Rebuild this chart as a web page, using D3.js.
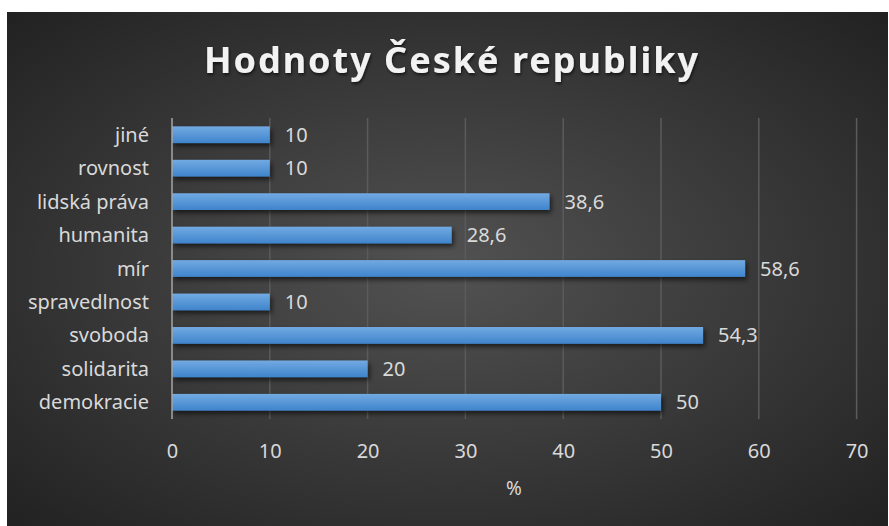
<!DOCTYPE html>
<html>
<head>
<meta charset="utf-8">
<script src="https://cdn.jsdelivr.net/npm/d3@7"></script>
<style>
    body { margin: 0; background: #fff; }
    svg { display: block; font-family: "Noto Sans", "Open Sans", sans-serif; }
</style>
</head>
<body>
<script>
(function () {

    // data, top to bottom
    var categories = ["jiné", "rovnost", "lidská práva", "humanita", "mír", "spravedlnost", "svoboda", "solidarita", "demokracie"];
    var values = [10, 10, 38.6, 28.6, 58.6, 10, 54.3, 20, 50];
    var xTicks = [0, 10, 20, 30, 40, 50, 60, 70];
    var titleText = "Hodnoty České republiky";
    var axisTitle = "%";

    var width = 889,
        height = 526,
        panel = { x: 7, y: 12, w: 881, h: 514 },
        plot = { left: 172, right: 856.6, top: 118, bottom: 419 };

    var svg = d3.select("body")
        .append("svg")
        .attr("width", width)
        .attr("height", height);

    var defs = svg.append("defs");

    // background gradient, lighter in the middle
    var bg = defs.append("radialGradient")
        .attr("id", "bg")
        .attr("cx", "50%").attr("cy", "50%").attr("r", "70%");
    bg.append("stop").attr("offset", "0%").attr("stop-color", "#525252");
    bg.append("stop").attr("offset", "100%").attr("stop-color", "#222222");

    var barGrad = defs.append("linearGradient")
        .attr("id", "barGrad")
        .attr("x1", 0).attr("y1", 0).attr("x2", 0).attr("y2", 1);
    barGrad.append("stop").attr("offset", "0%").attr("stop-color", "#72aae2");
    barGrad.append("stop").attr("offset", "100%").attr("stop-color", "#3f84cc");

    var shadow = defs.append("filter")
        .attr("id", "shadow")
        .attr("x", "-10%").attr("y", "-50%").attr("width", "130%").attr("height", "250%");
    shadow.append("feDropShadow")
        .attr("dx", 2).attr("dy", 3)
        .attr("stdDeviation", 2.5)
        .attr("flood-color", "#000")
        .attr("flood-opacity", 0.6);

    var titleShadow = defs.append("filter").attr("id", "tshadow");
    titleShadow.append("feDropShadow")
        .attr("dx", 1).attr("dy", 2)
        .attr("stdDeviation", 1.5)
        .attr("flood-color", "#000")
        .attr("flood-opacity", 0.6);

    svg.append("rect")
        .attr("x", panel.x).attr("y", panel.y)
        .attr("width", panel.w).attr("height", panel.h)
        .attr("fill", "url(#bg)");

    var x = d3.scaleLinear()
        .domain([0, 70])
        .range([plot.left, plot.right]);

    var y = d3.scaleBand()
        .domain(categories)
        .range([plot.top, plot.bottom])
        .paddingInner(0.5)
        .paddingOuter(0.25);

    // vertical gridlines
    svg.append("g")
        .selectAll("line")
        .data(xTicks.slice(1))
        .enter()
        .append("line")
        .attr("x1", function (d) { return x(d); })
        .attr("x2", function (d) { return x(d); })
        .attr("y1", plot.top)
        .attr("y2", plot.bottom)
        .attr("stroke", "#5b5b5b")
        .attr("stroke-width", 1.5);

    // bars
    svg.append("g")
        .selectAll("rect")
        .data(values)
        .enter()
        .append("rect")
        .attr("x", x(0))
        .attr("y", function (d, i) { return y(categories[i]); })
        .attr("width", function (d) { return x(d) - x(0); })
        .attr("height", y.bandwidth())
        .attr("fill", "url(#barGrad)")
        .attr("filter", "url(#shadow)");

    // category axis line
    svg.append("line")
        .attr("x1", x(0)).attr("x2", x(0))
        .attr("y1", plot.top).attr("y2", plot.bottom)
        .attr("stroke", "#a6a6a6")
        .attr("stroke-width", 1.5);

    // category labels
    svg.append("g")
        .selectAll("text")
        .data(categories)
        .enter()
        .append("text")
        .attr("x", x(0) - 23)
        .attr("y", function (d) { return y(d) + y.bandwidth() / 2; })
        .attr("dy", "0.35em")
        .attr("text-anchor", "end")
        .attr("fill", "#d9d9d9")
        .style("font-size", "20px")
        .text(function (d) { return d; });

    // value labels
    svg.append("g")
        .selectAll("text")
        .data(values)
        .enter()
        .append("text")
        .attr("x", function (d) { return x(d) + 15; })
        .attr("y", function (d, i) { return y(categories[i]) + y.bandwidth() / 2; })
        .attr("dy", "0.35em")
        .attr("fill", "#d9d9d9")
        .style("font-size", "20px")
        .text(function (d) { return String(d).replace(".", ","); });

    // x tick labels
    var xAxis = d3.axisBottom(x)
        .tickValues(xTicks)
        .tickSize(0)
        .tickPadding(0)
        .tickFormat(function (d) { return String(d); });

    var axis = svg.append("g")
        .attr("transform", "translate(0,458)")
        .call(xAxis);
    axis.select(".domain").remove();
    axis.selectAll("text")
        .attr("dy", null)
        .attr("y", 0)
        .attr("fill", "#d9d9d9")
        .style("font-size", "20px")
        .style("font-family", "\"Noto Sans\", sans-serif");

    svg.append("text")
        .attr("x", 514)
        .attr("y", 495)
        .attr("text-anchor", "middle")
        .attr("fill", "#d9d9d9")
        .style("font-size", "19px")
        .text(axisTitle);

    svg.append("text")
        .attr("x", 452)
        .attr("y", 73)
        .attr("text-anchor", "middle")
        .attr("fill", "#f2f2f2")
        .attr("filter", "url(#tshadow)")
        .style("font-size", "36px")
        .style("font-weight", "bold")
        .style("letter-spacing", "2px")
        .text(titleText);

})();
</script>
</body>
</html>
